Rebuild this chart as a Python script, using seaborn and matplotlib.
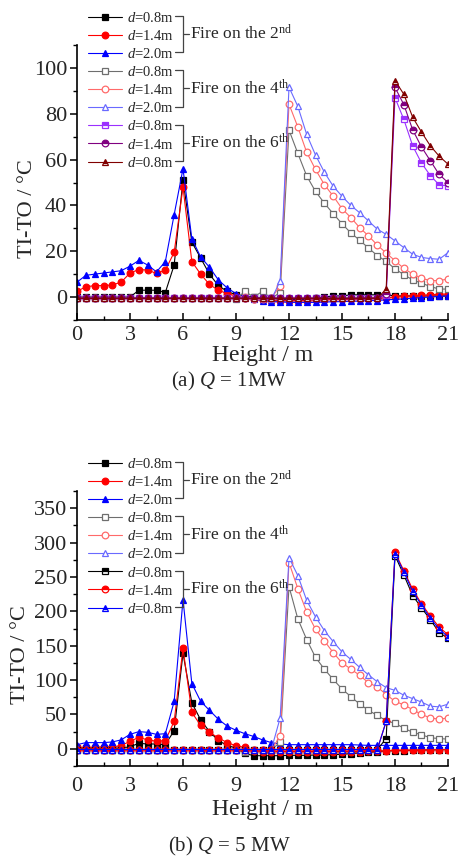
import numpy as np
import pandas as pd
import matplotlib
matplotlib.use("Agg")
import matplotlib.pyplot as plt
import seaborn as sns
from matplotlib.lines import Line2D
from matplotlib.ticker import MultipleLocator

# ---------------- data ----------------
height = [0, 0.5, 1, 1.5, 2, 2.5, 3, 3.5, 4, 4.5, 5, 5.5, 6, 6.5, 7, 7.5, 8, 8.5, 9, 9.5,
          10, 10.5, 11, 11.5, 12, 12.5, 13, 13.5, 14, 14.5, 15, 15.5, 16, 16.5, 17, 17.5,
          18, 18.5, 19, 19.5, 20, 20.5, 21]

legend_labels = ["$d$=0.8m", "$d$=1.4m", "$d$=2.0m",
                 "$d$=0.8m", "$d$=1.4m", "$d$=2.0m",
                 "$d$=0.8m", "$d$=1.4m", "$d$=0.8m"]
group_labels = ["Fire on the 2$^{\\mathrm{nd}}$", "Fire on the 4$^{\\mathrm{th}}$",
                "Fire on the 6$^{\\mathrm{th}}$"]
captions = ["(a) $Q$ = 1MW", "(b) $Q$ = 5 MW"]

# (a) Q = 1 MW
a_f2_d08 = [0, 0, 0, 0, 0, 0, 0, 3, 3, 3, 2, 14, 51, 24, 17, 10, 5, 2.5, 1, 0.5,
            0, -0.5, -0.5, -1, -1, -1, -1, -0.5, 0, 0.5, 0.5, 1, 1, 1, 1, 1,
            0.5, 0.5, 0.5, 0.5, 0.5, 0.5, 0.5]
a_f2_d14 = [2.5, 4.5, 5, 5, 5.3, 6.5, 10.5, 12, 11.8, 10.3, 11.8, 19.5, 48, 15.5, 10, 5.5, 3, 1.5, 0.5, -0.5,
            -1, -1.2, -1.5, -1.5, -1.5, -1.5, -1.5, -1.2, -1.2, -1, -1, -1, -0.8, -0.5, -0.5, -0.3,
            0, 0.3, 0.5, 0.8, 1, 1.2, 1.3]
a_f2_d20 = [6.5, 9.5, 10, 10.5, 11, 11.5, 13.5, 16, 14, 11, 15.5, 36, 56, 25.5, 17.5, 13, 7.5, 4, 1.5, 0,
            -1, -1.5, -2, -2, -2.3, -2.3, -2.3, -2.3, -2.2, -2, -2, -1.8, -1.8, -1.5, -1.5, -1.2,
            -1, -0.8, -0.5, -0.2, 0, 0.3, 0.5]
a_f4_d08 = [-0.5, -0.5, -0.5, -0.5, -0.5, -0.5, -0.5, -0.5, -0.5, -0.5, -0.5, -0.5, -0.5, -0.5, -0.5,
            -0.5, -0.5, -0.5, -1, 2.5, 0, 2.5, -0.5, 2,
            72.9, 62.7, 52.9, 46.1, 41, 36.4, 32, 28, 24.8, 21.4, 18.1, 15.6, 12.3, 9.8, 7.5, 6.1, 4.6, 3.5, 3.5]
a_f4_d14 = [-0.5, -0.5, -0.5, -0.5, -0.5, -0.5, -0.5, -0.5, -0.5, -0.5, -0.5, -0.5, -0.5, -0.5, -0.5,
            -0.5, -0.5, -0.5, -0.5, 0, -1, -1, -0.5, 5,
            84.2, 74.2, 63.2, 55.7, 49.1, 44.1, 38.6, 34.7, 30.3, 26.7, 22.7, 19.2, 15.9, 12.5, 10.1, 8.2, 7.2, 7.2, 7.9]
a_f4_d20 = [-0.5, -0.5, -0.5, -0.5, -0.5, -0.5, -0.5, -0.5, -0.5, -0.5, -0.5, -0.5, -0.5, -0.5, -0.5,
            -0.5, -0.5, -0.5, -0.5, 0, -0.5, -0.5, -1, 7,
            91.6, 83.2, 71, 62, 54.5, 48.4, 44, 40, 36.8, 33.2, 29.6, 27.4, 24.5, 21.6, 18.7, 17.3, 16.8, 16.5, 19.4]
a_f6_d08 = [-0.5, -0.5, -0.5, -0.5, -0.5, -0.5, -0.5, -0.5, -0.5, -0.5, -0.5, -0.5, -0.5, -0.5, -0.5,
            -0.5, -0.5, -0.5, -0.5, -0.5, -0.5, -0.5, -0.5, -0.5, -0.5, -0.5, -0.5, -0.5, -0.5, -0.5,
            -0.5, -0.5, -0.5, -0.5, -0.5, 1, 87, 77.5, 66, 58.5, 53, 49, 48.5]
a_f6_d14 = [-0.5, -0.5, -0.5, -0.5, -0.5, -0.5, -0.5, -0.5, -0.5, -0.5, -0.5, -0.5, -0.5, -0.5, -0.5,
            -0.5, -0.5, -0.5, -0.5, -0.5, -0.5, -0.5, -0.5, -0.5, -0.5, -0.5, -0.5, -0.5, -0.5, -0.5,
            -0.5, -0.5, -0.5, -0.5, -0.5, 1.5, 91.5, 84, 73, 65.5, 59.5, 53.5, 50]
a_f6_d08b = [-0.5, -0.5, -0.5, -0.5, -0.5, -0.5, -0.5, -0.5, -0.5, -0.5, -0.5, -0.5, -0.5, -0.5, -0.5,
             -0.5, -0.5, -0.5, -0.5, -0.5, -0.5, -0.5, -0.5, -0.5, -0.5, -0.5, -0.5, -0.5, -0.5, -0.5,
             -0.5, -0.5, -0.5, -0.5, -0.5, 3.5, 94.5, 88.5, 78.5, 72, 66, 61.5, 58]

# (b) Q = 5 MW
b_f2_d08 = [1, 1, 1, 1, 1, 1, 3, 8, 7, 7, 6, 26.5, 139, 67, 42, 25, 12, 5, 1, -6.5,
            -10, -10, -10, -10, -9.5, -9.5, -9.5, -9, -9, -8.5, -8, -7, -6, -5, -4, -3,
            -3, -2.5, -2, -2, -1.5, -1.5, -1]
b_f2_d14 = [2, 2, 2, 3, 3, 4.5, 11, 16.5, 13, 11, 12, 40, 146, 53, 34, 24, 16, 9, 4.5, 2,
            -3, -4, -4, -4, -4, -4, -4, -4, -4, -4, -4, -4, -4, -3.5, -3, -3,
            -2, -2, -2, -1.5, -1.5, -1, -1]
b_f2_d20 = [6, 9, 9, 9, 10, 13, 21, 25, 24, 21, 22, 69, 217, 95, 69, 56, 43, 33, 27, 22,
            18, 13, 9, 7, 6, 6, 6, 6, 6, 6, 6, 6, 5.5, 5, 5, 5,
            5, 5, 5, 5, 5, 5, 5]
b_f4_d08 = [-1, -1, -1, -1, -1, -1, -1, -1, -1, -1, -1, -1, -1, -1, -1, -1, -1, -1, -1,
            -4, -2, -2, -2, 10,
            236, 189, 159, 133, 116, 101, 87, 76, 65, 56, 48.5, 41, 37, 30, 24, 20.5, 16, 15, 14]
b_f4_d14 = [-1, -1, -1, -1, -1, -1, -1, -1, -1, -1, -1, -1, -1, -1, -1, -1, -1, -1, -1,
            -2, -2, -2, -2, 19,
            271, 233, 199, 174, 157, 140, 125, 116, 107, 96, 90, 79, 69, 64, 57, 50, 45, 43, 45]
b_f4_d20 = [-1, -1, -1, -1, -1, -1, -1, -1, -1, -1, -1, -1, -1, -1, -1, -1, -1, -1, -1,
            -1, -2, -2, -1, 45,
            278, 252, 216, 192, 172, 156, 141, 130, 118.5, 107.5, 97.5, 89, 85, 78, 73, 68, 62, 61, 65]
b_f6_d08 = [-1, -1, -1, -1, -1, -1, -1, -1, -1, -1, -1, -1, -1, -1, -1, -1, -1, -1, -1, -1,
            -1, -1, -1, -1, -1, -1, -1, -1, -1, -1, -1, -1, -1, -1, -1,
            15, 281, 253, 223, 205, 188, 169, 161]
b_f6_d14 = [-1, -1, -1, -1, -1, -1, -1, -1, -1, -1, -1, -1, -1, -1, -1, -1, -1, -1, -1, -1,
            -1, -1, -1, -1, -1, -1, -1, -1, -1, -1, -1, -1, -1, -1, -1,
            40, 286, 259, 232, 211, 193, 177, 166]
b_f6_d08b = [-1, -1, -1, -1, -1, -1, -1, -1, -1, -1, -1, -1, -1, -1, -1, -1, -1, -1, -1, -1,
             -1, -1, -1, -1, -1, -1, -1, -1, -1, -1, -1, -1, -1, -1, -1,
             40, 284, 257, 229, 209, 190, 174, 163]

series_a = [a_f2_d08, a_f2_d14, a_f2_d20, a_f4_d08, a_f4_d14, a_f4_d20, a_f6_d08, a_f6_d14, a_f6_d08b]
series_b = [b_f2_d08, b_f2_d14, b_f2_d20, b_f4_d08, b_f4_d14, b_f4_d20, b_f6_d08, b_f6_d14, b_f6_d08b]

# ---------------- styles ----------------
markers = ["s", "o", "^", "s", "o", "^", "s", "o", "^"]
fills = ["full", "full", "full", "open", "open", "open", "top", "top", "top"]
colors_a = ["#000000", "#FF0000", "#0000FF", "#6E6E6E", "#FF6A6A", "#6A6AFF",
            "#9B30FF", "#800080", "#800000"]
colors_b = ["#000000", "#FF0000", "#0000FF", "#6E6E6E", "#FF6A6A", "#6A6AFF",
            "#000000", "#FF0000", "#0000FF"]

sns.set_style("ticks")
plt.rcParams["font.family"] = ["Liberation Serif", "DejaVu Serif"]
plt.rcParams["mathtext.fontset"] = "custom"
plt.rcParams["mathtext.rm"] = "Liberation Serif"
plt.rcParams["mathtext.it"] = "Liberation Serif:italic"
plt.rcParams["mathtext.bf"] = "Liberation Serif:bold"

W, H = 458, 864
fig = plt.figure(figsize=(W / 100, H / 100), dpi=100)


def fx(px):
    return px / W


def fy(py):
    return 1 - py / H


ax1 = fig.add_axes([fx(77), fy(320), fx(448) - fx(77), fy(45) - fy(320)])
ax2 = fig.add_axes([fx(77), fy(766), fx(448) - fx(77), fy(491) - fy(766)])


def draw_panel(ax, series, colors):
    lines = []
    for vals, m, f, c, lab in zip(series, markers, fills, colors, legend_labels):
        df = pd.DataFrame({"Height": height, "T": vals})
        kw = dict(color=c, marker=m, markersize=4.8, markeredgecolor=c,
                  markeredgewidth=0.9, linewidth=0.8, label=lab, legend=False)
        if f == "full":
            kw.update(markerfacecolor=c)
        elif f == "open":
            kw.update(markerfacecolor="white")
        else:
            kw.update(markerfacecolor=c, fillstyle="top", markerfacecoloralt="white")
        sns.lineplot(data=df, x="Height", y="T", ax=ax, **kw)
        lines.append(ax.lines[-1])
    return lines


lines1 = draw_panel(ax1, series_a, colors_a)
lines2 = draw_panel(ax2, series_b, colors_b)

for ax, (ylo, yhi, major, minor), xl_y, xpad, ylx in zip(
        [ax1, ax2], [(-10, 110, 20, 10), (-25, 375, 50, 25)], [355, 810], [4, 8], [-0.108, -0.127]):
    ax.set_xlim(0, 21)
    ax.set_ylim(ylo, yhi)
    ax.xaxis.set_major_locator(MultipleLocator(3))
    ax.xaxis.set_minor_locator(MultipleLocator(1.5))
    ax.yaxis.set_major_locator(MultipleLocator(major))
    ax.yaxis.set_minor_locator(MultipleLocator(minor))
    ax.set_yticks([t for t in range(0, yhi, major)])
    for s in ["top", "right"]:
        ax.spines[s].set_visible(False)
    for s in ["left", "bottom"]:
        ax.spines[s].set_linewidth(1.2)
        ax.spines[s].set_color("black")
    ax.tick_params(axis="x", which="both", direction="in", color="black")
    ax.tick_params(axis="y", which="both", direction="out", color="black")
    ax.tick_params(which="major", length=5, width=1.1, labelsize=16)
    ax.tick_params(axis="x", which="major", pad=xpad)
    ax.tick_params(axis="y", which="major", pad=2)
    ax.tick_params(which="minor", length=3, width=1.0)
    ax.set_xlabel("Height / m", fontsize=17)
    ax.set_ylabel("TI-TO / \u00b0C", fontsize=16)
    bb = ax.get_position()
    ax.xaxis.set_label_coords(0.5, (fy(xl_y) - bb.y0) / bb.height)
    ax.xaxis.label.set_va("center")
    ax.yaxis.set_label_coords(ylx, 0.405)
    ax.grid(False)

# legends and brackets
for ax, lines, top_row in [(ax1, lines1, 16), (ax2, lines2, 462)]:
    leg = ax.legend(handles=lines, labels=legend_labels, loc="upper left",
                    bbox_to_anchor=(fx(88), fy(top_row - 5)), bbox_transform=fig.transFigure,
                    frameon=False, fontsize=10.5, handlelength=2.3, handletextpad=0.35,
                    labelspacing=0.28, borderpad=0, borderaxespad=0, numpoints=1)
    pitch = 18.1
    for g in range(3):
        yt = top_row + g * 3 * pitch
        yb = yt + 2 * pitch
        ym = (yt + yb) / 2
        xs = 183
        kwl = dict(color="#444444", linewidth=0.9, transform=fig.transFigure)
        fig.add_artist(Line2D([fx(175), fx(xs), fx(xs), fx(175)], [fy(yt), fy(yt), fy(yb), fy(yb)], **kwl))
        fig.add_artist(Line2D([fx(xs), fx(189)], [fy(ym), fy(ym)], **kwl))
        fig.text(fx(190), fy(ym), group_labels[g], fontsize=12.5, va="center", ha="left")

fig.text(0.5, fy(381), captions[0], fontsize=15, ha="center", va="center")
fig.text(0.5, fy(846), captions[1], fontsize=15, ha="center", va="center")

fig.savefig("out.png", dpi=100)
